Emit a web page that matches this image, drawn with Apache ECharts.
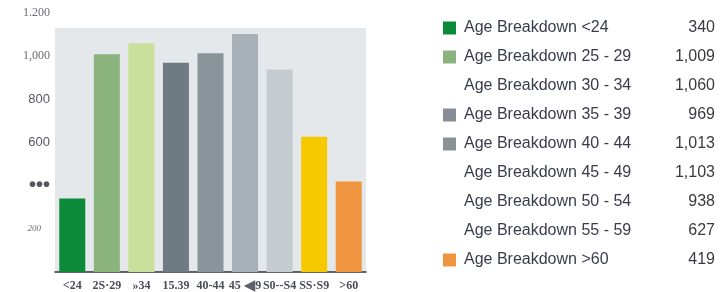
<!DOCTYPE html>
<html>
<head>
<meta charset="utf-8">
<script src="https://cdn.jsdelivr.net/npm/echarts@6/dist/echarts.min.js"></script>
<style>
  html, body { margin: 0; padding: 0; background: #fff; }
  #chart { width: 727px; height: 292px; }
</style>
</head>
<body>
<div id="chart"></div>
<script>
// data
const categories = ['<24', '25 - 29', '30 - 34', '35 - 39', '40 - 44', '45 - 49', '50 - 54', '55 - 59', '>60']
const values = [340, 1009, 1060, 969, 1013, 1103, 938, 627, 419]
const xTickLabels = ['<24', '2S·29', '»34', '15.39', '40-44', '45 ◀9', 'S0--S4', 'SS·S9', '>60']
const yTickValues = [0, 200, 400, 600, 800, 1000, 1200]
const yTickLabels = ['', '200', '•••', '600', '800', '1,000', '1.200']

const barColors = ['#0b8a3a', '#8bb47c', '#cadf9c', '#6e7b82', '#8a959b', '#a8b1b8', '#c4cbd1', '#f6c800', '#f0953f']
const legendIconColors = ['#0b8a3a', '#8bb47c', null, '#878d96', '#8a9199', null, null, null, '#f0953f']
const yLabelStyle = { 0: 'ital', 200: 'ital', 400: 'dots', 600: 'sans', 800: 'sans', 1000: 'serif', 1200: 'serif' }

const seriesName = c => 'Age Breakdown ' + c

let chart = echarts.init(document.getElementById('chart'))

chart.setOption({
  animation: false,
  grid: [
    { left: 55, right: 361, top: 13, bottom: 20, outerBoundsMode: 'none' },
    { left: 55, right: 361, top: 28, bottom: 20, outerBoundsMode: 'none', show: true, backgroundColor: '#e5e8eb', borderWidth: 0, z: -1 }
  ],
  legend: {
    orient: 'vertical',
    left: 443,
    top: 20,
    padding: 0,
    itemWidth: 13,
    itemHeight: 13,
    itemGap: 13,
    selectedMode: false,
    data: categories.map((c, i) => ({
      name: seriesName(c),
      icon: legendIconColors[i] ? 'rect' : 'none',
      itemStyle: { color: legendIconColors[i] || 'transparent' }
    })),
    formatter: name => {
      const i = categories.map(seriesName).indexOf(name)
      return '{n|' + name + '}{v|' + values[i].toLocaleString('en-US') + '}'
    },
    textStyle: {
      rich: {
        n: { width: 200, fontSize: 16, lineHeight: 16, fontFamily: 'Liberation Sans', color: '#3a3c4c', padding: [0, 0, 0, 3] },
        v: { width: 51, align: 'right', fontSize: 16, lineHeight: 16, fontFamily: 'Liberation Sans', color: '#3a3a40' }
      }
    }
  },
  xAxis: [
    {
      type: 'category',
      data: categories,
      gridIndex: 0,
      axisLine: { lineStyle: { color: '#333', width: 1.5 } },
      axisTick: { show: false },
      axisLabel: {
        margin: 6,
        interval: 0,
        formatter: (v, i) => xTickLabels[i].split('◀').map(s => '{b|' + s + '}').join('{t|◀}'),
        rich: {
          b: { fontFamily: 'Liberation Serif', fontWeight: 'bold', fontSize: 12, lineHeight: 16, verticalAlign: 'middle', color: '#4a4d58' },
          t: { fontFamily: 'DejaVu Sans', fontSize: 15, lineHeight: 16, verticalAlign: 'middle', color: '#5c606b' }
        }
      }
    },
    { type: 'category', gridIndex: 1, show: false, data: categories }
  ],
  yAxis: [
    {
      type: 'value',
      gridIndex: 0,
      min: 0,
      max: 1200,
      interval: 200,
      axisLine: { show: false },
      axisTick: { show: false },
      splitLine: { show: false },
      axisLabel: {
        margin: 5,
        formatter: v => {
          const s = yTickLabels[yTickValues.indexOf(v)]
          return s ? '{' + yLabelStyle[v] + '|' + s + '}' : ''
        },
        rich: {
          serif: { fontFamily: 'Liberation Serif', fontSize: 12, color: '#6a6d75' },
          sans: { fontFamily: 'Liberation Sans', fontSize: 13, color: '#55585f' },
          dots: { fontFamily: 'Liberation Sans', fontSize: 20, fontWeight: 'bold', color: '#55585f' },
          ital: { fontFamily: 'Liberation Serif', fontStyle: 'italic', fontSize: 9, color: '#6a6d75', padding: [0, 9, 0, 0] }
        }
      }
    },
    { type: 'value', gridIndex: 1, show: false }
  ],
  series: categories.map((c, i) => ({
    name: seriesName(c),
    type: 'bar',
    stack: 'all',
    barWidth: 26,
    xAxisIndex: 0,
    yAxisIndex: 0,
    itemStyle: { color: barColors[i] },
    data: values.map((v, j) => (j === i ? v : null))
  }))
})
</script>
</body>
</html>
